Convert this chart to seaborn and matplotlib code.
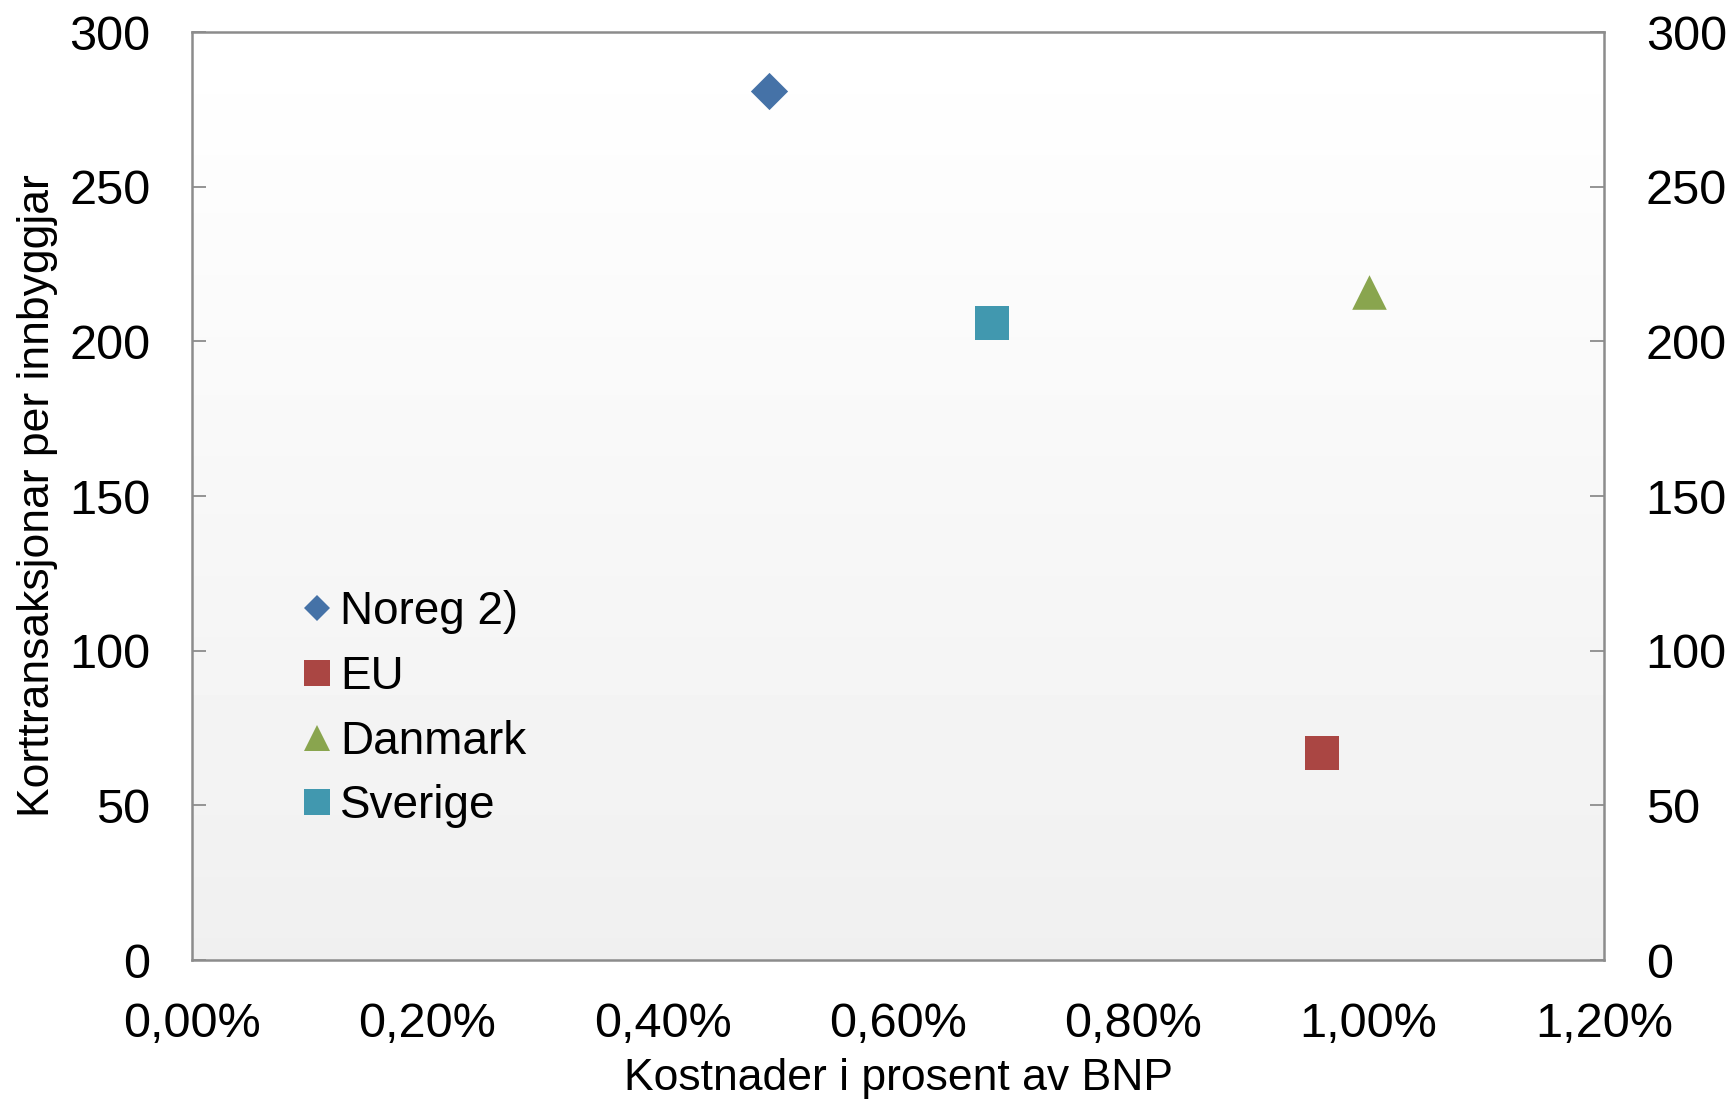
import numpy as np
import pandas as pd
import seaborn as sns
import matplotlib
matplotlib.use('Agg')
import matplotlib.pyplot as plt
from matplotlib.lines import Line2D
from matplotlib.ticker import FuncFormatter

# data
countries = ['Noreg 2)', 'EU', 'Danmark', 'Sverige']
cost_pct = [0.49, 0.96, 1.00, 0.68]          # kostnader i prosent av BNP
transactions = [281, 67, 216, 206]           # korttransaksjonar per innbyggjar
colors = ['#4572A7', '#AA4643', '#89A54E', '#4198AF']
markers = ['D', 's', '^', 's']

x_ticks = [0.0, 0.2, 0.4, 0.6, 0.8, 1.0, 1.2]
y_ticks = [0, 50, 100, 150, 200, 250, 300]

df = pd.DataFrame({'land': countries, 'kost': cost_pct, 'trans': transactions})

sns.set_theme(style='white')
plt.rcParams['font.family'] = ['Liberation Sans', 'DejaVu Sans']
plt.rcParams['text.color'] = 'black'
plt.rcParams['axes.labelcolor'] = 'black'
FS = 35

fig = plt.figure(figsize=(17.35, 11.01), dpi=100)
ax = fig.add_axes([192 / 1735, 1 - 960 / 1101, (1604 - 192) / 1735, (960 - 32) / 1101])

# gradient background
grad = np.linspace(0.94, 1.0, 256).reshape(-1, 1)
ax.imshow(grad, extent=[0, 1, 0, 1], transform=ax.transAxes, aspect='auto',
          cmap='gray', vmin=0, vmax=1, origin='lower', zorder=0)

sizes = {'D': 360, 's': 580, '^': 620}
for name, col, mk in zip(countries, colors, markers):
    sub = df[df['land'] == name]
    sns.scatterplot(data=sub, x='kost', y='trans', color=col, marker=mk,
                    s=sizes[mk], linewidth=0, ax=ax, zorder=3, legend=False)

ax.set_xlim(0, 1.2)
ax.set_ylim(0, 300)
ax.set_xticks(x_ticks)
ax.set_yticks(y_ticks)
ax.xaxis.set_major_formatter(FuncFormatter(lambda v, p: f'{v:.2f}%'.replace('.', ',')))
ax.set_xlabel('Kostnader i prosent av BNP', fontsize=32, labelpad=8)
ax.set_ylabel('Korttransaksjonar per innbyggjar', fontsize=32, labelpad=8)

for s in ax.spines.values():
    s.set_color('#8c8c8c')
    s.set_linewidth(1.8)
ax.tick_params(axis='both', direction='in', length=10, width=1.3, color='#8c8c8c',
               labelsize=FS, labelcolor='black', pad=30)
ax.tick_params(axis='x', pad=30)

ax2 = ax.twinx()
ax2.set_ylim(0, 300)
ax2.set_yticks(y_ticks)
ax2.tick_params(axis='y', direction='in', length=10, width=1.3, color='#8c8c8c',
                labelsize=FS, labelcolor='black', pad=30)
for s in ax2.spines.values():
    s.set_visible(False)
ax2.grid(False)

handles = [Line2D([], [], linestyle='none', marker=mk, color=col,
                  markersize=19 if mk != 'D' else 13, markeredgewidth=0)
           for col, mk in zip(colors, markers)]
ax.legend(handles, countries, loc='upper left', bbox_to_anchor=(0.066, 0.418),
          frameon=False, fontsize=33, handlelength=0.6, handletextpad=0.2,
          labelspacing=0.45, borderaxespad=0)

fig.savefig('out.png', dpi=100)
